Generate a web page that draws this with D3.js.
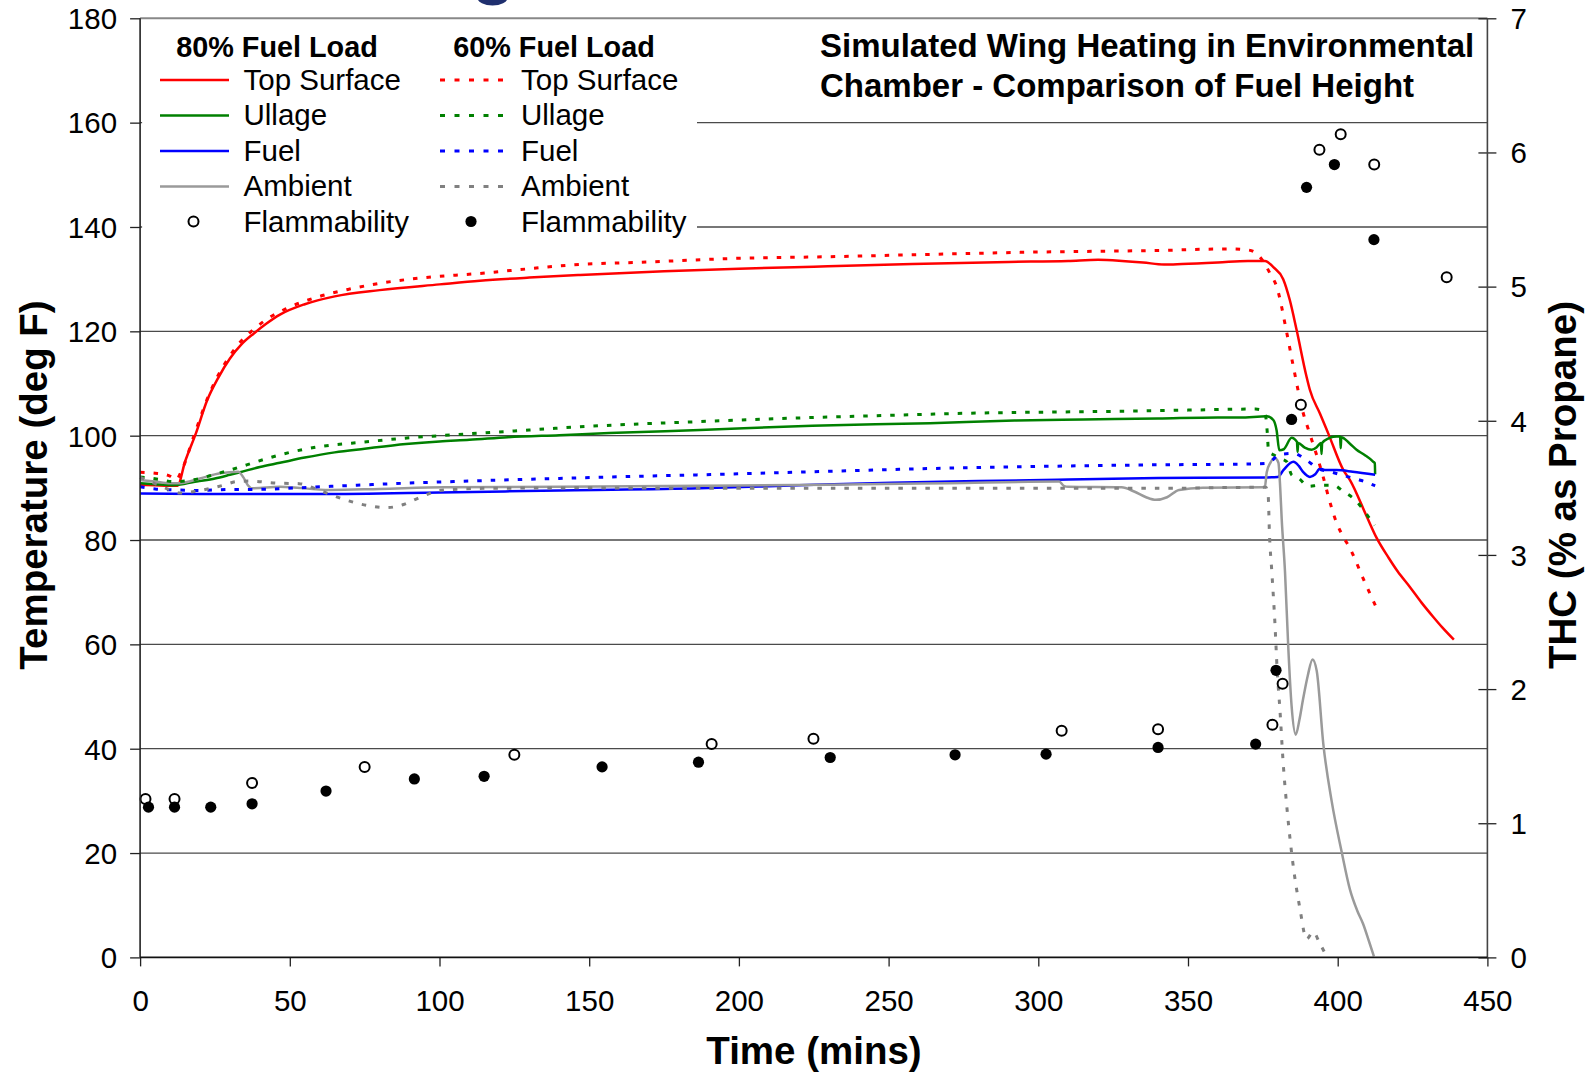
<!DOCTYPE html>
<html>
<head>
<meta charset="utf-8">
<script src="https://cdn.jsdelivr.net/npm/d3@7/dist/d3.min.js"></script>
<style>
  html, body { margin: 0; padding: 0; background: #ffffff; }
  svg { display: block; font-family: "Liberation Sans", Arial, Helvetica, sans-serif; }
</style>
</head>
<body>
<svg id="chart" width="1592" height="1078"></svg>
<script>
// ---- Data: time (mins) vs temperature (deg F) ----
const topSurface80 = [[0,90.6],[5,90.5],[10,90.4],[12.5,90.4],[15,95],[18.6,100.4],[22.4,106.8],[26,111],[30,114.8],[34,117.6],[38,119.6],[42,121.4],[46.7,123.2],[55,125.2],[65,126.7],[80,127.9],[100,129],[113.5,129.7],[130,130.3],[147,130.8],[175,131.5],[200,132],[225,132.4],[258,132.9],[290,133.3],[310,133.5],[320,133.7],[328,133.5],[335,133.2],[342,132.8],[348,132.9],[360,133.2],[370,133.5],[375.7,133.5],[378.5,132.3],[381.8,130],[384,126],[386.3,120.2],[389.6,111.3],[390.7,108.8],[394.1,104.2],[397,100.2],[401.9,93.4],[404.1,91.5],[409.7,84.5],[413,80.4],[417,76.6],[420,74],[424.1,71],[428,68],[432,65.2],[435,63.2],[438.8,60.9]];
const topSurface60 = [[0,93],[5,92.8],[9.8,92.3],[12,91.6],[14,93.5],[18,100],[22.4,107],[26,111.5],[30,115.3],[34,118.3],[38,120.4],[42,122.2],[49,124.4],[60,126.7],[70,128.1],[80,129.2],[95,130.3],[113.5,131.1],[130,132],[143.6,132.7],[170,133.3],[200,134],[230,134.3],[260,134.7],[300,135.2],[340,135.5],[364,135.8],[370,135.6],[372.9,134.9],[375,133.5],[377.5,131],[379.6,128.6],[383,119.7],[385.2,113.2],[388.5,104.3],[390.2,101.2],[395.2,92],[396.9,88.3],[399.7,83.2],[401.9,80.6],[404.1,78.4],[408.6,72.5],[412.7,67.3]];
const ullage80 = [[0,90.9],[5,90.7],[11,90.5],[15,90.8],[18.9,91.2],[25,91.8],[30,92.5],[33.4,93],[40,94],[46.7,94.8],[55,95.8],[65,96.8],[75,97.5],[88.8,98.4],[100,98.9],[110,99.2],[122.8,99.7],[140,100.1],[156.7,100.5],[187,101.1],[224.5,101.9],[263.8,102.4],[292,102.9],[315,103.1],[340,103.3],[360,103.5],[367.3,103.5],[376.4,103.7],[378.5,103],[379.6,101],[380.5,97.2],[382,97.4],[384.6,99.6],[386.4,98.8],[386.6,96.9],[386.8,98.6],[389,97.7],[391.3,97.3],[393,97.8],[394.4,98.6],[394.6,96.5],[394.8,98.6],[397,99.5],[398.5,99.8],[400.8,99.9],[401,97.6],[401.2,99.7],[404,98.5],[406.3,97.3],[409,96.3],[411.9,95],[412.4,94.7],[412.5,92.6]];
const ullage60 = [[0,92.1],[6.6,91.6],[11,91.2],[15,91.3],[20,91.8],[25,92.6],[30,93.4],[35.6,94.4],[43.4,95.8],[50,96.8],[60,97.9],[75,98.8],[90,99.6],[100,100],[125,100.9],[150,101.8],[187,102.7],[220,103.4],[250,103.9],[276.5,104.3],[300,104.5],[330,104.7],[350,104.9],[372.6,105.1],[375,104.8],[376,103.5],[376.5,100.4],[376.9,97],[379,96.2],[381,95.6],[383,95],[384.6,92.5],[387,91.8],[390.2,90.3],[394,90.5],[398.5,90.5],[401.9,89.3],[405.8,87.7],[410.2,84.5],[412.3,82.8]];
const fuel80 = [[0,88.9],[20,88.8],[40,88.8],[60,88.8],[100,89.1],[140,89.5],[187,89.9],[220,90.5],[251,91],[280,91.3],[310,91.6],[340,91.9],[376.4,92],[380,92.1],[382,93.5],[385.2,95],[387,94.2],[388.5,93],[390.7,92.1],[392.5,92.6],[394.1,93.7],[396,93.4],[399.7,93.4],[405,93.1],[412.5,92.5]];
const fuel60 = [[0,90.2],[5,89.8],[12,89.6],[20,89.5],[30,89.7],[37.7,89.7],[60,90.2],[89,90.9],[115,91.4],[140,91.8],[165,92.2],[187,92.5],[225,93.1],[263.8,93.7],[300,94.1],[337,94.4],[372.6,94.6],[376.5,94.7],[380.7,96.4],[385.2,96.6],[389.6,95.3],[393.5,93.7],[398,93],[403,92.2],[408,91.4],[412.5,90.4]];
const ambient80 = [[0,91.5],[5,91.2],[10,90.9],[13.3,90.9],[20,91.8],[26.7,92.8],[32.8,93.1],[34.5,92],[36,90.5],[37.5,89.9],[46.7,90.2],[63.4,89.6],[80,89.8],[101.8,90.1],[140,90.2],[187,90.4],[230,90.6],[270,90.9],[307,91.2],[308.5,90.4],[310,90.2],[327.8,90.1],[332,89.3],[336,88.2],[339.3,87.7],[343,88.2],[347,89.6],[355,90],[375,90.1],[375.7,90.3],[376.3,93],[377.5,94.8],[379,95.7],[380.2,94.8],[380.8,90],[381.3,84],[382.4,73.9],[383.5,59.3],[384.6,48.2],[386,42.7],[387.2,45.5],[388.5,49.7],[390,54],[391.6,57.1],[393,54.9],[395.2,40.9],[398,29.9],[401.3,20.3],[404.1,13],[406.5,9],[408.5,6.4],[410.5,3],[412.1,0.2]];
const ambient60 = [[0,92],[5,90.8],[10,89.6],[13.3,89],[20,89.5],[27.8,90.5],[32.3,91.2],[36.7,91.3],[45.6,90.9],[53.1,90.8],[60,89.5],[68,87.8],[76,86.6],[82,86.2],[88,86.8],[92,87.8],[97,89],[100,89.5],[114.5,89.9],[150,90],[187,89.9],[250,89.9],[300,89.9],[340,89.9],[372.6,90.1],[376,90.1],[376.8,88.3],[377.2,81.3],[378,73.9],[379,64.4],[379.8,54.9],[380.7,47.5],[381.8,37.2],[383.2,27.7],[385,18.2],[387.4,9.3],[389.6,3.5],[391.8,4.9],[394,2.7],[396.3,0.2]];

// ---- Data: time (mins) vs THC (% as propane), right axis ----
const flammability80 = [[1.8,1.18],[11.5,1.18],[37.4,1.3],[75,1.42],[125,1.51],[190.9,1.59],[224.9,1.63],[307.8,1.69],[340,1.7],[378.2,1.735],[381.6,2.04],[387.7,4.12],[393.9,6.02],[401,6.135],[412.2,5.91],[436.4,5.07]];
const flammability60 = [[2.8,1.12],[11.5,1.12],[23.6,1.12],[37.4,1.145],[62.1,1.24],[91.6,1.33],[114.9,1.35],[154.3,1.42],[186.5,1.455],[230.5,1.49],[272.2,1.51],[302.6,1.515],[340,1.565],[372.6,1.59],[379.4,2.14],[384.6,4.01],[389.6,5.74],[398.9,5.91],[412.1,5.35]];

// ---- Axis ticks and labels ----
const timeTicks = [0, 50, 100, 150, 200, 250, 300, 350, 400, 450];
const tempTicks = [0, 20, 40, 60, 80, 100, 120, 140, 160, 180];
const thcTicks = [0, 1, 2, 3, 4, 5, 6, 7];
const titleLines = ["Simulated Wing Heating in Environmental", "Chamber - Comparison of Fuel Height"];
const legendHeaders = ["80% Fuel Load", "60% Fuel Load"];
const legendNames = ["Top Surface", "Ullage", "Fuel", "Ambient", "Flammability"];

const seriesDefs = [
  { data: topSurface80, color: "#ff0000", dashed: false },
  { data: ullage80, color: "#008000", dashed: false },
  { data: fuel80, color: "#0000ff", dashed: false },
  { data: ambient80, color: "#9a9a9a", dashed: false },
  { data: topSurface60, color: "#ff0000", dashed: true },
  { data: ullage60, color: "#008000", dashed: true },
  { data: fuel60, color: "#0000ff", dashed: true },
  { data: ambient60, color: "#808080", dashed: true }
];

const W = 1592, H = 1078;
const plot = { left: 140.1, right: 1487.4, top: 18.3, bottom: 957.4 };
const FONT = "29.5px";
const DASH = "4.5,9";

const svg = d3.select("#chart");
svg.append("rect").attr("width", W).attr("height", H).attr("fill", "#ffffff");

const x = d3.scaleLinear().domain([0, 450]).range([plot.left, plot.right]);
const y = d3.scaleLinear().domain([0, 180]).range([plot.bottom, plot.top]);
const y2 = d3.scaleLinear().domain([0, 7]).range([plot.bottom, plot.top]);

// navy fragment of a heading cut by the top edge
svg.append("ellipse").attr("cx", 492.5).attr("cy", -2).attr("rx", 15).attr("ry", 7.5)
  .attr("fill", "#1f2f6e");

// horizontal gridlines
svg.append("g").selectAll("line").data(tempTicks.filter(d => d > 0 && d < 180)).join("line")
  .attr("x1", plot.left).attr("x2", plot.right)
  .attr("y1", d => y(d)).attr("y2", d => y(d))
  .attr("stroke", "#4a4a4a").attr("stroke-width", 1.3);
// top border
svg.append("line").attr("x1", plot.left).attr("x2", plot.right)
  .attr("y1", plot.top).attr("y2", plot.top)
  .attr("stroke", "#888888").attr("stroke-width", 2);

// legend background hides gridlines behind it
svg.append("rect").attr("x", plot.left + 2).attr("y", plot.top + 6)
  .attr("width", 697 - plot.left - 2).attr("height", 222).attr("fill", "#ffffff");

// series lines
const line = d3.line().x(d => x(d[0])).y(d => y(d[1])).curve(d3.curveMonotoneX);
const lineG = svg.append("g");
seriesDefs.forEach(s => {
  lineG.append("path").datum(s.data)
    .attr("d", line)
    .attr("fill", "none")
    .attr("stroke", s.color)
    .attr("stroke-width", s.dashed ? 3 : 2.5)
    .attr("stroke-dasharray", s.dashed ? DASH : null)
    .attr("stroke-linejoin", "round");
});

// flammability markers (THC axis)
svg.append("g").selectAll("circle").data(flammability80).join("circle")
  .attr("cx", d => x(d[0])).attr("cy", d => y2(d[1])).attr("r", 5)
  .attr("fill", "#ffffff").attr("stroke", "#000000").attr("stroke-width", 2);
svg.append("g").selectAll("circle").data(flammability60).join("circle")
  .attr("cx", d => x(d[0])).attr("cy", d => y2(d[1])).attr("r", 5.6)
  .attr("fill", "#000000");

// axes
const axisLeft = d3.axisLeft(y).tickValues(tempTicks).tickSize(10).tickPadding(13);
const gl = svg.append("g").attr("transform", `translate(${plot.left},0)`).call(axisLeft);
const axisBottom = d3.axisBottom(x).tickValues(timeTicks).tickSize(9).tickPadding(12);
const gb = svg.append("g").attr("transform", `translate(0,${plot.bottom})`).call(axisBottom);
const axisRight = d3.axisRight(y2).tickValues(thcTicks).tickFormat(d3.format("d")).tickSize(9).tickPadding(14);
const gr = svg.append("g").attr("transform", `translate(${plot.right},0)`).call(axisRight);
gr.selectAll(".tick line").attr("x1", -9).attr("x2", 9);

[gl, gb, gr].forEach(g => {
  g.select(".domain").remove();
  g.selectAll(".tick line").attr("stroke", "#222").attr("stroke-width", 1.3);
  g.selectAll(".tick text").attr("font-size", FONT).attr("fill", "#000")
    .attr("font-family", "'Liberation Sans', Arial, sans-serif");
});
gb.selectAll(".tick text").attr("dy", null).attr("y", 54);
gl.selectAll(".tick text").attr("dy", "0.35em");
gr.selectAll(".tick text").attr("dy", "0.35em");

// axis lines
svg.append("line").attr("x1", plot.left).attr("x2", plot.left).attr("y1", plot.top).attr("y2", plot.bottom)
  .attr("stroke", "#222").attr("stroke-width", 1.6);
svg.append("line").attr("x1", plot.right).attr("x2", plot.right).attr("y1", plot.top).attr("y2", plot.bottom)
  .attr("stroke", "#444").attr("stroke-width", 1.6);
svg.append("line").attr("x1", plot.left).attr("x2", plot.right).attr("y1", plot.bottom).attr("y2", plot.bottom)
  .attr("stroke", "#111").attr("stroke-width", 1.8);

// axis titles
svg.append("text").attr("x", 814).attr("y", 1064).attr("text-anchor", "middle")
  .attr("font-size", "38.5px").attr("font-weight", "bold").text("Time (mins)");
svg.append("text").attr("transform", "translate(47,485) rotate(-90)").attr("text-anchor", "middle")
  .attr("font-size", "38.5px").attr("font-weight", "bold").text("Temperature (deg F)");
svg.append("text").attr("transform", "translate(1576,485) rotate(-90)").attr("text-anchor", "middle")
  .attr("font-size", "38.5px").attr("font-weight", "bold").text("THC (% as Propane)");

// chart title
svg.append("g").selectAll("text").data(titleLines).join("text")
  .attr("x", 820).attr("y", (d, i) => 57 + i * 40)
  .attr("font-size", "33px").attr("font-weight", "bold").text(d => d);

// legend
const legend = svg.append("g");
const colX = [{ line: 160, text: 243.5, head: 277 }, { line: 440, text: 521, head: 554 }];
const rowBase = [89.5, 125, 160.5, 196, 231.5];
legendHeaders.forEach((h, c) => {
  legend.append("text").attr("x", colX[c].head).attr("y", 56.5).attr("text-anchor", "middle")
    .attr("font-size", "28.8px").attr("font-weight", "bold").text(h);
  const group = c === 0 ? seriesDefs.slice(0, 4) : seriesDefs.slice(4, 8);
  group.forEach((s, r) => {
    legend.append("line")
      .attr("x1", colX[c].line).attr("x2", colX[c].line + 69)
      .attr("y1", rowBase[r] - 9.5).attr("y2", rowBase[r] - 9.5)
      .attr("stroke", s.color).attr("stroke-width", s.dashed ? 3 : 2.5)
      .attr("stroke-dasharray", s.dashed ? "5,9.5" : null);
  });
  const cx = c === 0 ? 193.5 : 471;
  if (c === 0) {
    legend.append("circle").attr("cx", cx).attr("cy", rowBase[4] - 10).attr("r", 5)
      .attr("fill", "#fff").attr("stroke", "#000").attr("stroke-width", 2);
  } else {
    legend.append("circle").attr("cx", cx).attr("cy", rowBase[4] - 10).attr("r", 5.6).attr("fill", "#000");
  }
  legendNames.forEach((n, r) => {
    legend.append("text").attr("x", colX[c].text).attr("y", rowBase[r])
      .attr("font-size", FONT).text(n);
  });
});
</script>
</body>
</html>
